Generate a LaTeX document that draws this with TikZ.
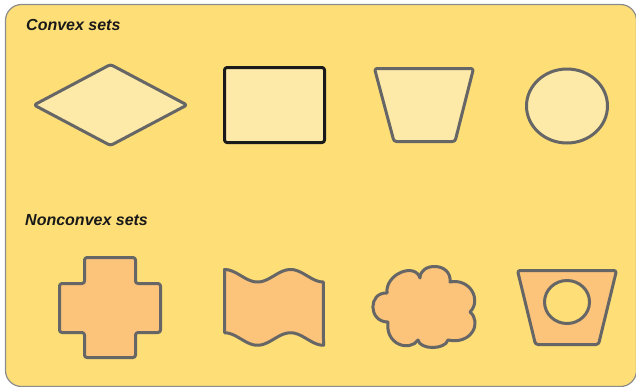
\documentclass[tikz,border=0pt]{standalone}
\usepackage{fontspec}
\setmainfont{Liberation Sans}
\definecolor{panel}{HTML}{FDDE77}
\definecolor{panelline}{HTML}{8C8C8C}
\definecolor{convexfill}{HTML}{FEEAA8}
\definecolor{nonconvexfill}{HTML}{FCC37A}
\definecolor{shapeline}{HTML}{666666}
\definecolor{blackline}{HTML}{1A1A1A}
\tikzset{
  convexshape/.style={draw=shapeline, fill=convexfill, line width=3pt, line join=round, rounded corners=2.5pt},
  nonconvexshape/.style={draw=shapeline, fill=nonconvexfill, line width=3pt, line join=round, rounded corners=2.5pt},
  title/.style={anchor=base west, inner sep=0pt, font=\fontsize{16}{19}\selectfont\bfseries\itshape, text=black!90}
}
\begin{document}
\begin{tikzpicture}[x=1pt, y=-1pt]
\useasboundingbox (0,0) rectangle (636,386);
\begin{scope}
\clip (0,0) rectangle (636,386);
\draw[panelline, fill=panel, line width=1.2pt, rounded corners=16pt] (5.5,4.5) rectangle (636.5,386.5);
\end{scope}
\node[title] (convextitle) at (26,30.7) {Convex sets};
\node[title] (nonconvextitle) at (25,225.7) {Nonconvex sets};
% convex shapes
\draw[convexshape] (34,105) -- (110.5,64.5) -- (187,105) -- (110.5,145.5) -- cycle;
\draw[convexshape, draw=blackline] (224.5,67.5) rectangle (324.5,142.5);
\draw[convexshape] (374.5,68.5) -- (473.5,68.5) -- (455,141.5) -- (394,141.5) -- cycle;
\draw[convexshape] (567,106) ellipse [x radius=40.5, y radius=37];
% nonconvex shapes
\draw[nonconvexshape] (84.5,257.5) -- (135.5,257.5) -- (135.5,283.5) -- (160.5,283.5) -- (160.5,332.5) -- (135.5,332.5) -- (135.5,357.5) -- (84.5,357.5) -- (84.5,332.5) -- (59.5,332.5) -- (59.5,283.5) -- (84.5,283.5) -- cycle;
\draw[nonconvexshape, rounded corners=0pt]
  plot[domain=0:1, samples=60, smooth] ({224.5+99*\x}, {275.75-6.25*cos(540*\x)})
  -- plot[domain=1:0, samples=60, smooth] ({224.5+99*\x}, {339-6.25*cos(540*\x)})
  -- cycle;
\draw[nonconvexshape, rounded corners=0pt]
  (387,293) .. controls (385,274) and (415,262) .. (420,278)
  .. controls (420,262) and (452,262) .. (450,282)
  .. controls (470,278) and (482,300) .. (470,312)
  .. controls (482,322) and (472,345) .. (448,340)
  .. controls (445,350) and (420,350) .. (418,340)
  .. controls (410,352) and (385,345) .. (388,322)
  .. controls (368,322) and (368,292) .. (387,293) -- cycle;
\draw[nonconvexshape] (517.5,270.5) -- (616.5,270.5) -- (598.5,344.5) -- (535.5,344.5) -- cycle;
\draw[draw=shapeline, fill=panel, line width=3pt] (567,302) ellipse [x radius=22.5, y radius=21.5];
\end{tikzpicture}
\end{document}
